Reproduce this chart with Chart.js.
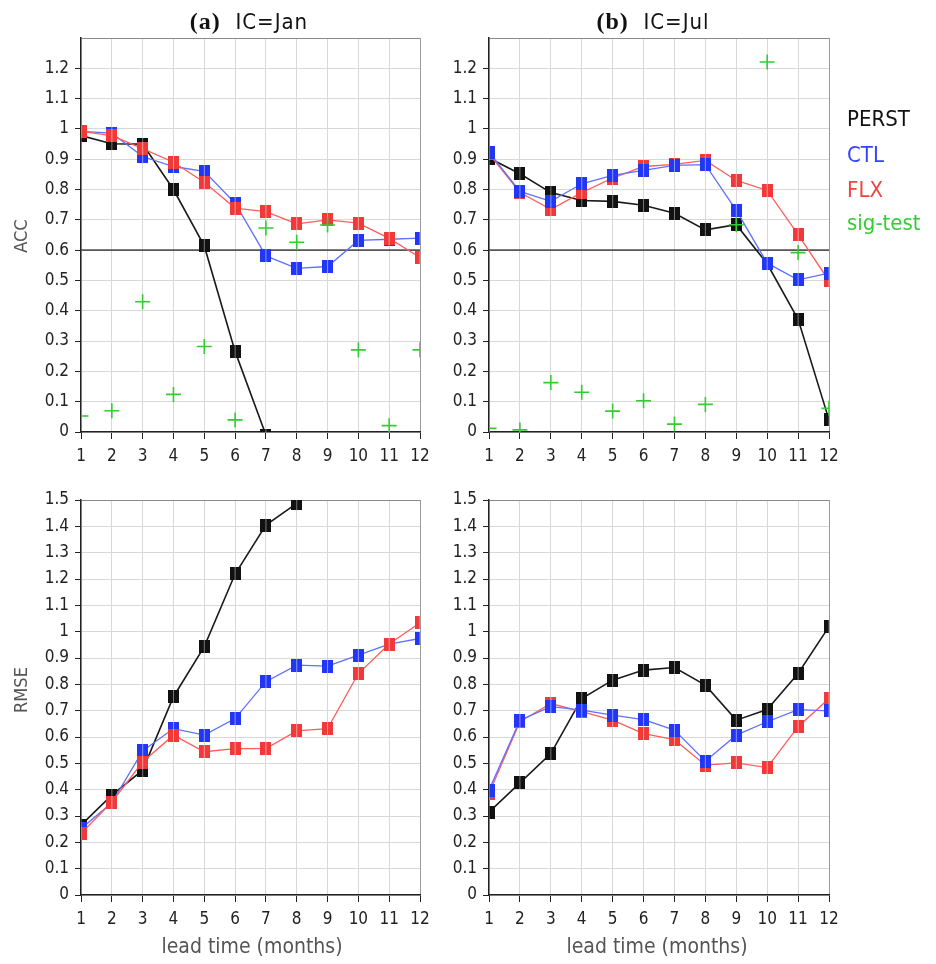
<!DOCTYPE html>
<html><head><meta charset="utf-8">
<script src="https://cdn.jsdelivr.net/npm/chart.js@4"></script>
<style>
body{margin:0;background:#fff;width:936px;height:964px;position:relative;overflow:hidden;font-family:"DejaVu Sans Condensed","DejaVu Sans",sans-serif;}
canvas{position:absolute;}
.t{position:absolute;white-space:nowrap;line-height:1;}
</style></head><body>
<canvas id="c1" width="440" height="480" style="left:0;top:0"></canvas>
<canvas id="c2" width="440" height="480" style="left:440px;top:0"></canvas>
<canvas id="c3" width="440" height="484" style="left:0;top:480px"></canvas>
<canvas id="c4" width="440" height="484" style="left:440px;top:480px"></canvas>

<div class="t" style="left:99px;top:9px;width:300px;text-align:center;font-size:22px;color:#111;letter-spacing:1px"><span style="font-family:'Liberation Serif',serif;font-weight:bold;font-size:24px">(a)</span>&nbsp; IC=Jan</div>
<div class="t" style="left:503px;top:9px;width:300px;text-align:center;font-size:22px;color:#111;letter-spacing:1px"><span style="font-family:'Liberation Serif',serif;font-weight:bold;font-size:24px">(b)</span>&nbsp; IC=Jul</div>

<div class="t" style="left:847px;top:108px;font-size:22px;color:#111">PERST</div>
<div class="t" style="left:847px;top:144px;font-size:22px;color:#3344ff">CTL</div>
<div class="t" style="left:847px;top:179px;font-size:22px;color:#f04444">FLX</div>
<div class="t" style="left:847px;top:212px;font-size:22px;color:#33cc33">sig-test</div>

<div class="t" style="left:-29px;top:227px;width:100px;text-align:center;font-size:18px;color:#555;transform:rotate(-90deg)">ACC</div>
<div class="t" style="left:-29px;top:681px;width:100px;text-align:center;font-size:18px;color:#555;transform:rotate(-90deg)">RMSE</div>

<div class="t" style="left:102px;top:936px;width:300px;text-align:center;font-size:21px;color:#555">lead time (months)</div>
<div class="t" style="left:507px;top:936px;width:300px;text-align:center;font-size:21px;color:#555">lead time (months)</div>

<script>
const leads = [1,2,3,4,5,6,7,8,9,10,11,12];
const accThreshold = 0.6;

const accJanPerst = [0.978,0.951,0.95,0.80,0.614,0.266,-0.01,null,null,null,null,null];
const accJanCtl   = [0.992,0.986,0.909,0.876,0.86,0.755,0.581,0.54,0.546,0.632,0.636,0.64];
const accJanFlx   = [0.992,0.978,0.935,0.89,0.824,0.739,0.727,0.687,0.70,0.689,0.639,0.576];
const accJanSig   = [0.053,0.07,0.43,0.124,0.282,0.04,0.673,0.626,0.683,0.271,0.021,0.271];

const accJulPerst = [0.904,0.852,0.79,0.764,0.761,0.748,0.722,0.667,0.684,0.555,0.372,0.04];
const accJulCtl   = [0.923,0.794,0.761,0.819,0.847,0.863,0.88,0.882,0.731,0.557,0.502,0.524];
const accJulFlx   = [0.918,0.79,0.735,0.79,0.838,0.876,0.883,0.896,0.83,0.797,0.651,0.499];
const accJulSig   = [0.012,0.007,0.163,0.131,0.069,0.103,0.026,0.091,0.684,1.221,0.592,0.078];

const rmseJanPerst = [0.265,0.379,0.474,0.753,0.943,1.219,1.405,1.487,null,null,null,null];
const rmseJanCtl   = [0.252,0.35,0.547,0.632,0.607,0.67,0.81,0.873,0.869,0.911,0.953,0.974];
const rmseJanFlx   = [0.233,0.353,0.505,0.607,0.544,0.556,0.556,0.623,0.632,0.841,0.953,1.034];

const rmseJulPerst = [0.315,0.426,0.537,0.746,0.816,0.854,0.864,0.797,0.664,0.704,0.841,1.019];
const rmseJulCtl   = [0.398,0.664,0.715,0.702,0.683,0.666,0.626,0.508,0.607,0.658,0.704,0.699];
const rmseJulFlx   = [0.385,0.658,0.727,0.696,0.664,0.613,0.59,0.493,0.502,0.484,0.639,0.746];

const F = '"DejaVu Sans Condensed","DejaVu Sans",sans-serif';

function marker(fill, stripe){
  const c = document.createElement('canvas');
  c.width = 11; c.height = 13;
  const g = c.getContext('2d');
  g.fillStyle = fill; g.fillRect(0,0,11,13);
  g.fillStyle = stripe; g.fillRect(5,0,1,13);
  return c;
}
const mBlack = marker('#111111','#777777');
const mBlue  = marker('#2236f5','#8d98ff');
const mRed   = marker('#f03a3a','#ff9a9a');

function pts(arr){ return leads.map((x,i)=>({x:x, y:arr[i]})); }

function series(vals, kind, order){
  const st = {
    perst:{line:'#1a1a1a', m:mBlack, w:1.6},
    ctl:{line:'#5f70ff', m:mBlue, w:1.3},
    flx:{line:'#ff5c5c', m:mRed, w:1.3}
  }[kind];
  return {data:pts(vals), borderColor:st.line, borderWidth:st.w, pointStyle:st.m,
    pointRadius:6, pointHoverRadius:6, tension:0, clip:0, order:order, spanGaps:false};
}
function sig(vals){
  return {data:pts(vals), showLine:false, pointStyle:'cross', pointRadius:7.5, pointHoverRadius:7.5,
    pointBorderColor:'#33cc33', borderColor:'#33cc33', pointBorderWidth:1.6, clip:0, order:0};
}
function thr(v){
  return {data:leads.map(x=>({x:x,y:v})), borderColor:'#555555', borderWidth:1.6, pointRadius:0, clip:0, order:9};
}

function scales(ymax, hideTop, yW, xH){
  return {
    x:{type:'linear', min:1, max:12,
      ticks:{stepSize:1, autoSkip:false, maxRotation:0, color:'#222', font:{family:F,size:17}, padding:7},
      grid:{color:(c)=> (c.tick && c.tick.value===12) ? '#9a9a9a' : '#d8d8d8', tickColor:'#222', tickLength:7, lineWidth:1},
      border:{color:'#222', width:1.5},
      afterFit:(s)=>{ s.height = xH; }
    },
    y:{min:0, max:ymax,
      ticks:{stepSize:0.1, color:'#222', font:{family:F,size:17}, padding:6,
        callback:(v)=> (hideTop && Math.abs(v-ymax)<1e-6) ? '' : String(+(+v).toFixed(1))},
      grid:{color:(c)=> (c.tick && Math.abs(c.tick.value-ymax)<1e-6) ? '#8a8a8a' : '#d8d8d8',
        tickColor:(c)=> (hideTop && c.tick && Math.abs(c.tick.value-ymax)<1e-6) ? 'rgba(0,0,0,0)' : '#222',
        tickLength:6, lineWidth:1},
      border:{color:'#222', width:1.5},
      afterFit:(s)=>{ s.width = yW; }
    }
  };
}

function make(id, datasets, sc, pad){
  new Chart(document.getElementById(id), {
    type:'line',
    data:{datasets:datasets},
    options:{responsive:false, animation:false, events:[],
      layout:{padding:pad},
      plugins:{legend:{display:false}, tooltip:{enabled:false}, title:{display:false}},
      scales:sc}
  });
}

// Top-left: ACC Jan  (chart area x 81..420, y 38..432)
make('c1', [sig(accJanSig), series(accJanFlx,'flx',1), series(accJanCtl,'ctl',2), series(accJanPerst,'perst',3), thr(accThreshold)],
  scales(1.3, true, 81, 48), {left:0, right:20, top:38, bottom:0});
// Top-right: ACC Jul (chart area x 489..829)
make('c2', [sig(accJulSig), series(accJulCtl,'ctl',1), series(accJulFlx,'flx',2), series(accJulPerst,'perst',3), thr(accThreshold)],
  scales(1.3, true, 49, 48), {left:0, right:51, top:38, bottom:0});
// Bottom-left: RMSE Jan (y 500..895)
make('c3', [series(rmseJanFlx,'flx',1), series(rmseJanCtl,'ctl',2), series(rmseJanPerst,'perst',3)],
  scales(1.5, false, 81, 69), {left:0, right:20, top:20, bottom:0});
// Bottom-right: RMSE Jul
make('c4', [series(rmseJulCtl,'ctl',1), series(rmseJulFlx,'flx',2), series(rmseJulPerst,'perst',3)],
  scales(1.5, false, 49, 69), {left:0, right:51, top:20, bottom:0});
</script>
</body></html>
